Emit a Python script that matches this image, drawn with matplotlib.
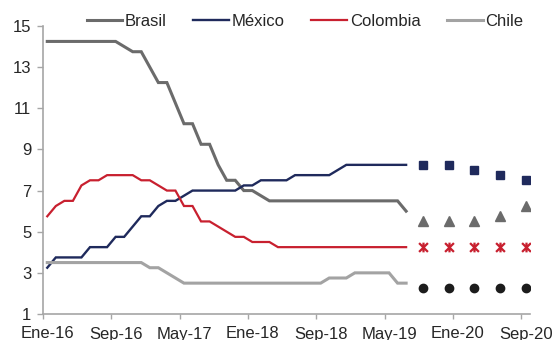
import numpy as np
import matplotlib
matplotlib.use("Agg")
import matplotlib.pyplot as plt
from matplotlib.path import Path

plt.rcParams['font.family'] = ['Liberation Sans', 'DejaVu Sans']

# Monthly policy rates (%), Ene-16 .. Jul-19
brasil = [14.25, 14.25, 14.25, 14.25, 14.25, 14.25, 14.25, 14.25, 14.25, 14.0,
          13.75, 13.75, 13.0, 12.25, 12.25, 11.25, 10.25, 10.25, 9.25, 9.25,
          8.25, 7.5, 7.5, 7.0, 7.0, 6.75, 6.5, 6.5, 6.5, 6.5,
          6.5, 6.5, 6.5, 6.5, 6.5, 6.5, 6.5, 6.5, 6.5, 6.5,
          6.5, 6.5, 6.0]
mexico = [3.25, 3.75, 3.75, 3.75, 3.75, 4.25, 4.25, 4.25, 4.75, 4.75,
          5.25, 5.75, 5.75, 6.25, 6.5, 6.5, 6.75, 7.0, 7.0, 7.0,
          7.0, 7.0, 7.0, 7.25, 7.25, 7.5, 7.5, 7.5, 7.5, 7.75,
          7.75, 7.75, 7.75, 7.75, 8.0, 8.25, 8.25, 8.25, 8.25, 8.25,
          8.25, 8.25, 8.25]
colombia = [5.75, 6.25, 6.5, 6.5, 7.25, 7.5, 7.5, 7.75, 7.75, 7.75,
            7.75, 7.5, 7.5, 7.25, 7.0, 7.0, 6.25, 6.25, 5.5, 5.5,
            5.25, 5.0, 4.75, 4.75, 4.5, 4.5, 4.5, 4.25, 4.25, 4.25,
            4.25, 4.25, 4.25, 4.25, 4.25, 4.25, 4.25, 4.25, 4.25, 4.25,
            4.25, 4.25, 4.25]
chile = [3.5, 3.5, 3.5, 3.5, 3.5, 3.5, 3.5, 3.5, 3.5, 3.5,
         3.5, 3.5, 3.25, 3.25, 3.0, 2.75, 2.5, 2.5, 2.5, 2.5,
         2.5, 2.5, 2.5, 2.5, 2.5, 2.5, 2.5, 2.5, 2.5, 2.5,
         2.5, 2.5, 2.5, 2.75, 2.75, 2.75, 3.0, 3.0, 3.0, 3.0,
         3.0, 2.5, 2.5]

# Quarterly forecasts
forecast_periods = ["Sep-19", "Dic-19", "Mar-20", "Jun-20", "Sep-20"]
brasil_fc = [5.5, 5.5, 5.5, 5.75, 6.25]
mexico_fc = [8.25, 8.25, 8.0, 7.75, 7.5]
colombia_fc = [4.25, 4.25, 4.25, 4.25, 4.25]
chile_fc = [2.25, 2.25, 2.25, 2.25, 2.25]

x_tick_labels = ["Ene-16", "Sep-16", "May-17", "Ene-18", "Sep-18", "May-19", "Ene-20", "Sep-20"]
y_ticks = [1, 3, 5, 7, 9, 11, 13, 15]

MONTHS = {"Ene": 0, "Feb": 1, "Mar": 2, "Abr": 3, "May": 4, "Jun": 5,
          "Jul": 6, "Ago": 7, "Sep": 8, "Oct": 9, "Nov": 10, "Dic": 11}
START = "Ene-16"


def month_index(label):
    m, y = label.split("-")
    m0, y0 = START.split("-")
    return (int(y) - int(y0)) * 12 + MONTHS[m] - MONTHS[m0]


hist_x = np.arange(len(brasil))
fc_x = [month_index(p) for p in forecast_periods]
tick_x = [month_index(p) for p in x_tick_labels]

C_BRA = "#6b6b6b"
C_MEX = "#1f2a5c"
C_COL = "#c8202f"
C_CHL = "#a3a3a3"
C_TXT = "#262626"
C_AX = "#a6a6a6"
FS = 12

fig = plt.figure(figsize=(5.55, 3.4), dpi=100)
ax = fig.add_axes([43 / 555, 1 - 314 / 340, (530 - 43) / 555, (314 - 26) / 340])

ax.plot(hist_x, brasil, color=C_BRA, lw=2.2, label="Brasil", solid_joinstyle="miter")
ax.plot(hist_x, mexico, color=C_MEX, lw=1.7, label="México", solid_joinstyle="miter")
ax.plot(hist_x, colombia, color=C_COL, lw=1.6, label="Colombia", solid_joinstyle="miter")
ax.plot(hist_x, chile, color=C_CHL, lw=2.2, label="Chile", solid_joinstyle="miter")

asterisk = Path([(-1, -1), (1, 1), (-1, 1), (1, -1), (0, -1.1), (0, 1.1)],
                [Path.MOVETO, Path.LINETO, Path.MOVETO, Path.LINETO, Path.MOVETO, Path.LINETO])

ax.plot(fc_x, mexico_fc, ls="none", marker="s", ms=6.2, color=C_MEX)
ax.plot(fc_x, brasil_fc, ls="none", marker="^", ms=7, color=C_BRA)
ax.plot(fc_x, colombia_fc, ls="none", marker=asterisk, ms=7, mew=1.6,
        color=C_COL, mec=C_COL)
ax.plot(fc_x, chile_fc, ls="none", marker="o", ms=6, color="#1c1c1c")

ax.set_xlim(-0.5, 56.5)
ax.set_ylim(1, 15)

ax.set_yticks(y_ticks)
ax.set_yticklabels([str(v) for v in y_ticks])
ax.set_xticks(tick_x)
ax.set_xticklabels(x_tick_labels)
ax.set_xticks([t - 0.5 for t in tick_x], minor=True)

for s in ("top", "right"):
    ax.spines[s].set_visible(False)
for s in ("left", "bottom"):
    ax.spines[s].set_color(C_AX)
    ax.spines[s].set_linewidth(1.2)

ax.tick_params(axis="y", which="major", length=4, width=1, color=C_AX,
               labelsize=FS, labelcolor=C_TXT, pad=4.5)
ax.tick_params(axis="x", which="major", length=0, labelsize=FS,
               labelcolor=C_TXT, pad=9)
ax.tick_params(axis="x", which="minor", length=3.5, width=1, color=C_AX)

leg = fig.legend(loc="center", bbox_to_anchor=(305 / 555, 1 - 21.5 / 340),
                 ncol=4, frameon=False, fontsize=FS, handlelength=2.15,
                 handletextpad=0.15, columnspacing=1.6, borderpad=0,
                 borderaxespad=0)
for t in leg.get_texts():
    t.set_color(C_TXT)

fig.savefig("out.png", dpi=100)
